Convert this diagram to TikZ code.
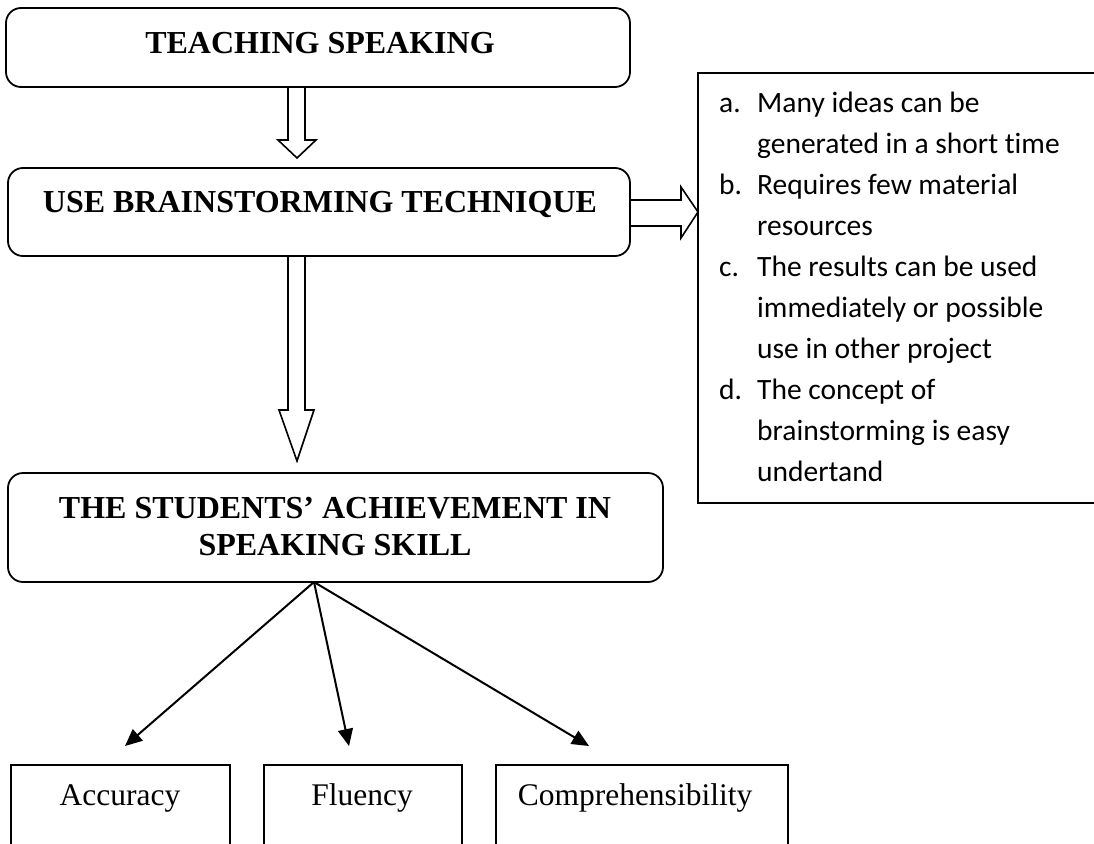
\documentclass[tikz,border=0pt]{standalone}
\usepackage{fontspec}
\setmainfont{Liberation Serif}
\newfontfamily\calfont[Ligatures=NoCommon]{Carlito}
\usetikzlibrary{arrows.meta,calc}
\begin{document}
\begin{tikzpicture}[x=1pt,y=-1pt,
  rbox/.style={draw, line width=1.8pt, rounded corners=15pt, inner sep=0pt},
  sbox/.style={draw, line width=1.6pt, inner sep=0pt},
  btext/.style={font=\fontsize{32}{38}\selectfont\bfseries, inner sep=0pt, anchor=base},
  ntext/.style={font=\fontsize{31.5}{37}\selectfont, inner sep=0pt, anchor=base},
  ltext/.style={font=\calfont\fontsize{29.5}{34}\selectfont, inner sep=0pt, anchor=base west},
  blockarrow/.style={draw, line width=1.6pt, line join=miter},
  thinarrow/.style={draw, line width=2pt, -{Triangle[length=17pt,width=15pt]}}]
\clip (0,0) rectangle (1094,843);
\fill[white] (0,0) rectangle (1094,843);

% main rounded boxes
\node[rbox, minimum width=624pt, minimum height=79pt] (b1) at (318,47.5) {};
\node[btext] (t1) at (320,53) {TEACHING SPEAKING};

\node[rbox, minimum width=622pt, minimum height=88pt] (b2) at (319,212) {};
\node[btext] (t2) at (320,212) {USE BRAINSTORMING TECHNIQUE};

\node[rbox, minimum width=655pt, minimum height=109pt] (b3) at (335.5,527.5) {};
\node[btext] (t3a) at (335,518) {THE STUDENTS' ACHIEVEMENT IN};
\node[btext] (t3b) at (335,555) {SPEAKING SKILL};

% list box (open on the right)
\node[sbox, minimum width=412pt, minimum height=430pt] (lb) at (904,288) {};
\node[ltext] (l1a) at (719,112) {a.};
\node[ltext] (l1) at (757,112) {Many ideas can be};
\node[ltext] (l2) at (757,153) {generated in a short time};
\node[ltext] (l3a) at (719,194) {b.};
\node[ltext] (l3) at (757,194) {Requires few material};
\node[ltext] (l4) at (757,235) {resources};
\node[ltext] (l5a) at (719,276) {c.};
\node[ltext] (l5) at (757,276) {The results can be used};
\node[ltext] (l6) at (757,317) {immediately or possible};
\node[ltext] (l7) at (757,358) {use in other project};
\node[ltext] (l8a) at (719,399) {d.};
\node[ltext] (l8) at (757,399) {The concept of};
\node[ltext] (l9) at (757,440) {brainstorming is easy};
\node[ltext] (l10) at (757,481) {undertand};

% bottom boxes (open at the bottom)
\node[sbox, minimum width=219pt, minimum height=110pt] (c1) at (120.5,820) {};
\node[ntext] (ct1) at (120,805) {Accuracy};
\node[sbox, minimum width=198pt, minimum height=110pt] (c2) at (363,820) {};
\node[ntext] (ct2) at (362,805) {Fluency};
\node[sbox, minimum width=292pt, minimum height=110pt] (c3) at (642,820) {};
\node[ntext] (ct3) at (635,805) {Comprehensibility};

% block arrows
\draw[blockarrow] (288,87) -- (288,140) -- (278,140) -- (297,158) -- (316,140) -- (305,140) -- (305,87);
\draw[blockarrow] (288,256) -- (288,410) -- (279,410) -- (297,461) -- (314,410) -- (305,410) -- (305,256);
\draw[blockarrow] (630,200) -- (681,200) -- (681,187) -- (698,212) -- (681,238) -- (681,226) -- (630,226);

% thin arrows
\coordinate (apex) at (314,582);
\coordinate (e1) at (125,746);
\coordinate (e2) at (349,746);
\coordinate (e3) at (589,746);
\draw[thinarrow] (apex) -- (e1);
\draw[thinarrow] (apex) -- (e2);
\draw[thinarrow] (apex) -- (e3);
\end{tikzpicture}
\end{document}
